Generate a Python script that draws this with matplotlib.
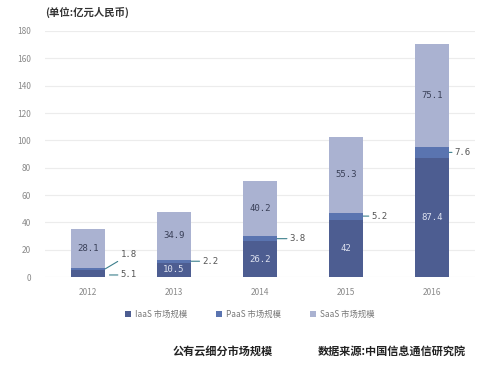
import matplotlib.pyplot as plt
import numpy as np

plt.rcParams['font.family'] = ['Noto Sans CJK SC', 'DejaVu Sans']

years = ['2012', '2013', '2014', '2015', '2016']
iaas = [5.1, 10.5, 26.2, 42, 87.4]
paas = [1.8, 2.2, 3.8, 5.2, 7.6]
saas = [28.1, 34.9, 40.2, 55.3, 75.1]
series_names = ['IaaS 市场规模', 'PaaS 市场规模', 'SaaS 市场规模']
colors = ['#4d5d91', '#5a74b0', '#aab2d1']

fig = plt.figure(figsize=(5, 3.87), dpi=100)
ax = fig.add_axes([0.09, 0.284, 0.86, 0.636])

x = np.arange(len(years))
w = 0.4
iaas_a = np.array(iaas)
paas_a = np.array(paas)
saas_a = np.array(saas)

b1 = ax.bar(x, iaas_a, w, color=colors[0], label=series_names[0], zorder=2)
b2 = ax.bar(x, paas_a, w, bottom=iaas_a, color=colors[1], label=series_names[1], zorder=2)
b3 = ax.bar(x, saas_a, w, bottom=iaas_a + paas_a, color=colors[2], label=series_names[2], zorder=2)

mono = 'DejaVu Sans Mono'
lc = '#3c7f8c'

# SaaS labels inside
for i in range(len(years)):
    ax.text(x[i], iaas_a[i] + paas_a[i] + saas_a[i] / 2, str(saas[i]), ha='center', va='center',
            fontsize=6.5, family=mono, color='#3a4058', zorder=3)

# IaaS labels inside (except 2012, outside)
for i in range(1, len(years)):
    ax.text(x[i], iaas_a[i] / 2, str(iaas[i]), ha='center', va='center',
            fontsize=6.5, family=mono, color='#dfe3f0', zorder=3)
ax.annotate(str(iaas[0]), xy=(x[0] + w / 2 + 0.05, iaas_a[0] / 2 - 1),
            xytext=(8, 0), textcoords='offset points', ha='left', va='center',
            fontsize=6.5, family=mono, color='#555555',
            arrowprops=dict(arrowstyle='-', color=lc, lw=0.8, shrinkA=0, shrinkB=0))

# PaaS labels outside with leader lines
offsets = [(11, 10), (8, 0), (9, 0), (6, 0), (4, 0)]
for i in range(len(years)):
    ax.annotate(str(paas[i]), xy=(x[i] + w / 2, iaas_a[i] + paas_a[i] / 2),
                xytext=offsets[i], textcoords='offset points', ha='left', va='center',
                fontsize=6.5, family=mono, color='#555555',
                arrowprops=dict(arrowstyle='-', color=lc, lw=0.8, shrinkA=0, shrinkB=0))

ax.set_ylim(0, 180)
ax.set_xlim(-0.5, len(years) - 0.5)
ax.set_yticks(range(0, 181, 20))
ax.set_xticks(x)
ax.set_xticklabels(years)
ax.tick_params(axis='both', length=0, labelsize=6, labelcolor='#8a8a8a')
ax.tick_params(axis='x', pad=8)
ax.tick_params(axis='y', pad=10)
ax.grid(axis='y', color='#ececec', lw=0.8, zorder=0)
for s in ax.spines.values():
    s.set_visible(False)

fig.legend(handles=[b1, b2, b3], labels=series_names, loc='center', bbox_to_anchor=(0.5, 0.188),
           ncol=3, frameon=False, fontsize=6, handlelength=0.7, handleheight=0.7,
           columnspacing=3.5, handletextpad=0.5, labelcolor='#777777')

fig.text(0.09, 0.968, '(单位:亿元人民币)', fontsize=7.5, fontweight='bold', color='#333333', va='center')
fig.text(0.345, 0.092, '公有云细分市场规模', fontsize=8, fontweight='bold', color='#222222', va='center')
fig.text(0.635, 0.092, '数据来源:中国信息通信研究院', fontsize=8, fontweight='bold', color='#222222', va='center')

fig.savefig('out.png', dpi=100)
